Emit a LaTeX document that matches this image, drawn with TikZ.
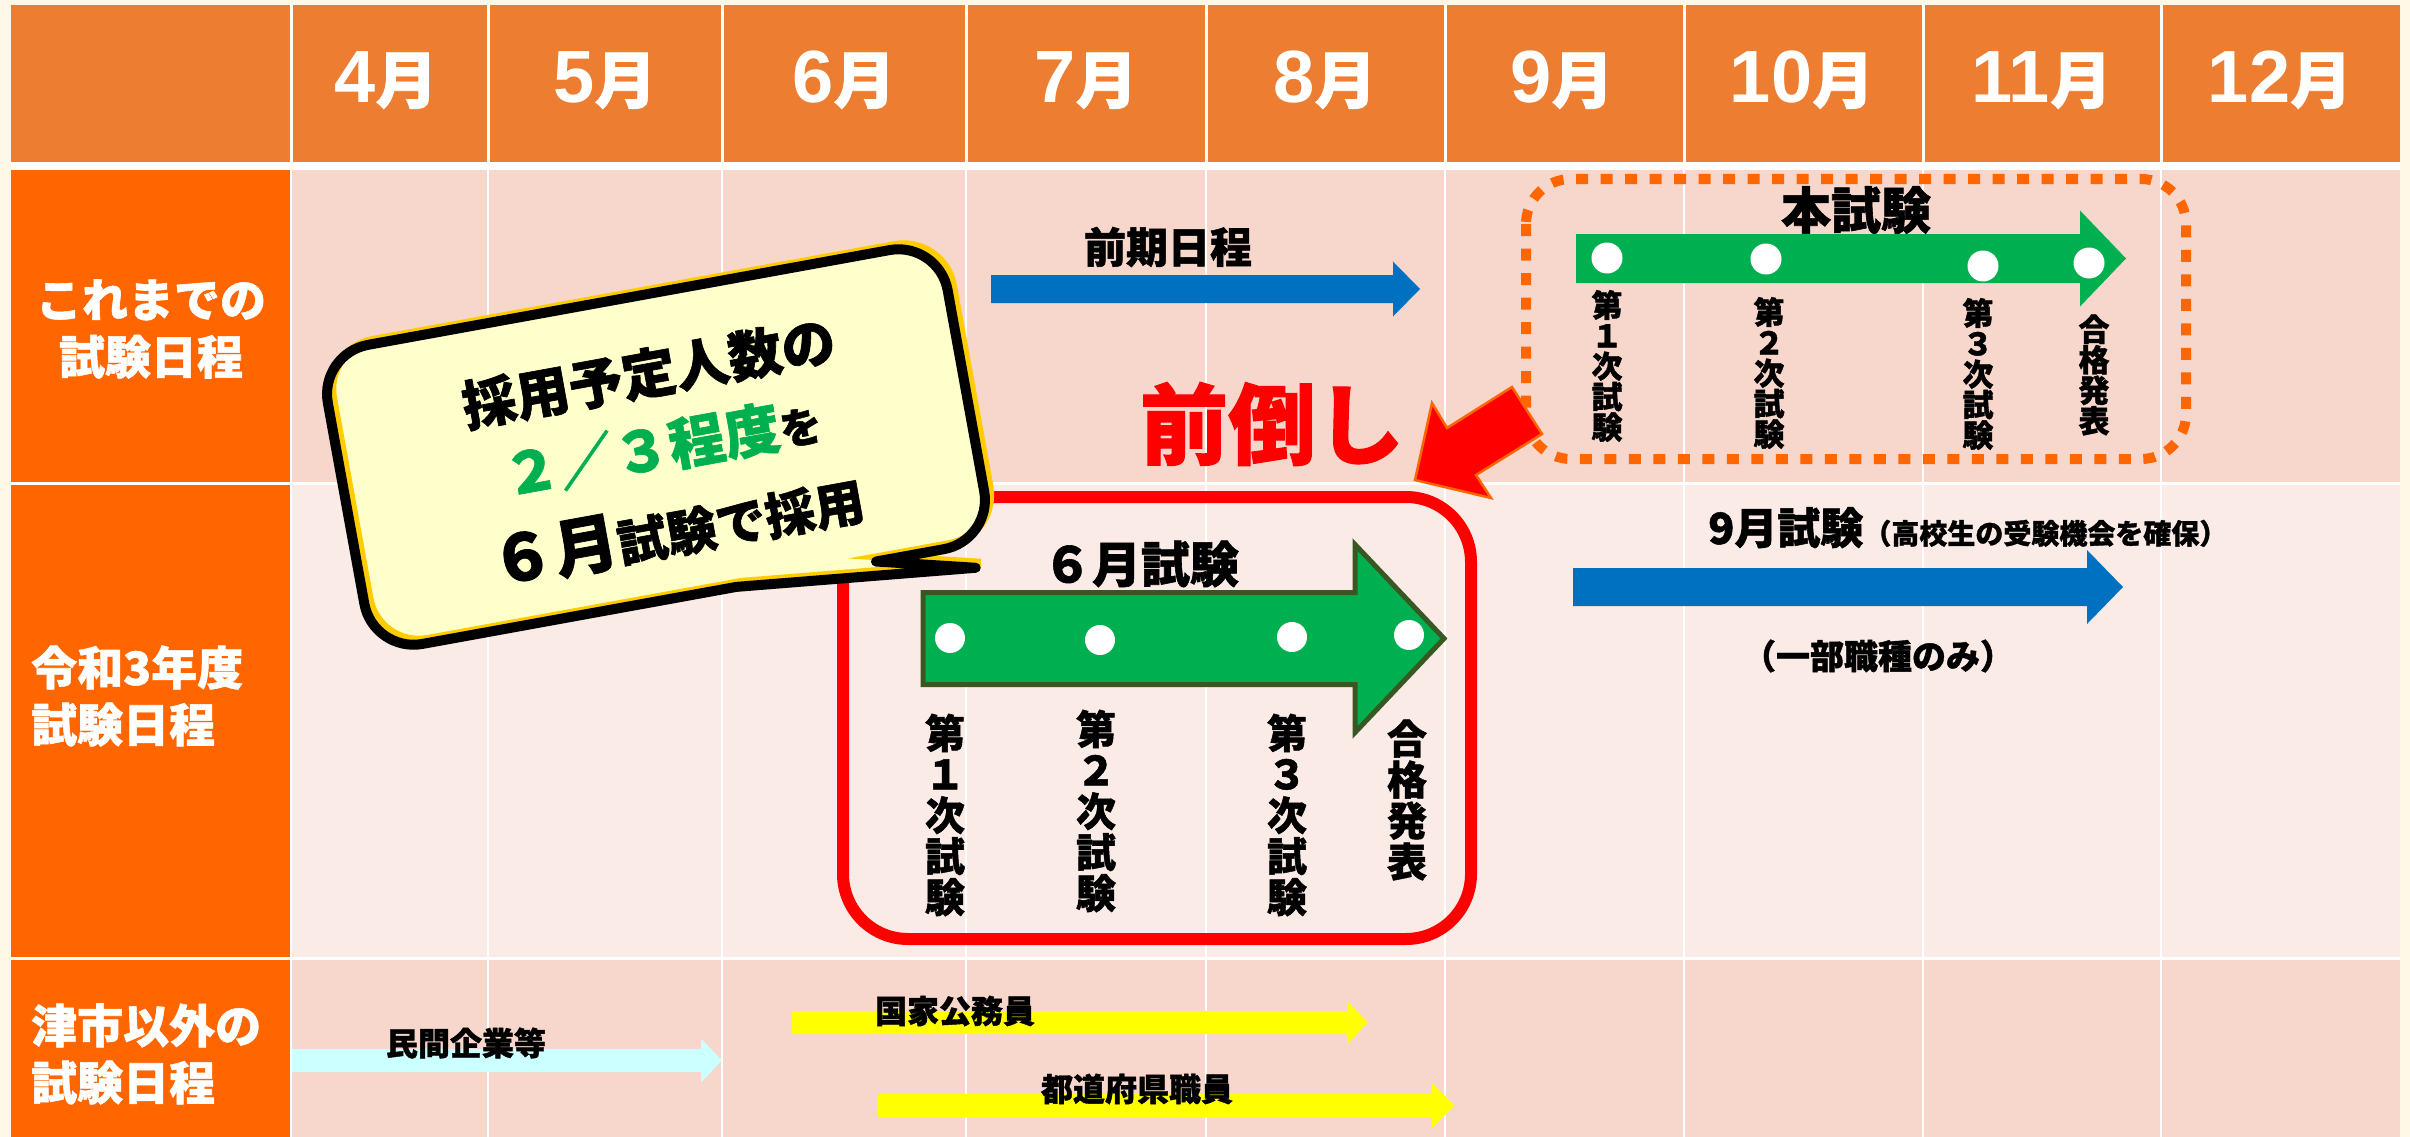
\documentclass[tikz,border=0pt]{standalone}
\usepackage{fontspec}
\newfontfamily\jp{Noto Sans CJK JP}[BoldFeatures={FakeBold=1.2}]
\newfontfamily\hdrdigits{Liberation Sans}
\definecolor{cream}{HTML}{FFF8E6}
\definecolor{hdr}{HTML}{ED7D31}
\definecolor{lab}{HTML}{FF6600}
\definecolor{rowa}{HTML}{F7D6CB}
\definecolor{rowb}{HTML}{FAEBE6}
\definecolor{grn}{HTML}{00B050}
\definecolor{grnline}{HTML}{385723}
\definecolor{blu}{HTML}{0070C0}
\definecolor{cyanl}{HTML}{CCFFFF}
\definecolor{yel}{HTML}{FFFF00}
\definecolor{bubfill}{HTML}{FFFFCC}
\definecolor{bubshadow}{HTML}{FFCC00}
\definecolor{dotor}{HTML}{FF6600}
\definecolor{redarr}{HTML}{FF0000}
\newcommand{\jfs}[2]{\fontsize{#1}{#2}\selectfont}
\newcommand{\mon}[1]{{\hdrdigits\bfseries\jfs{74}{74}#1}{\jp\bfseries\jfs{62}{62}月}}
% block arrow: style, x0, x1 (head base), x2 (tip), yc, body half height, head half height
\newcommand{\blockarrow}[7]{%
  \path[#1] (#2,#5-#6) -- (#3,#5-#6) -- (#3,#5-#7) -- (#4,#5) -- (#3,#5+#7) -- (#3,#5+#6) -- (#2,#5+#6) -- cycle;}
\begin{document}
\begin{tikzpicture}[x=1pt,y=-1pt,
  txt/.style={inner sep=0pt, font=\jp\bfseries},
  hdrtxt/.style={inner sep=0pt, text=white},
  labtxt/.style={inner sep=0pt, text=white, font=\jp\bfseries\jfs{46}{57}},
  vts/.style={inner sep=0pt, align=center, font=\jp\bfseries\jfs{31}{30.5}},
  vtl/.style={inner sep=0pt, align=center, font=\jp\bfseries\jfs{40}{41}},
  smalllab/.style={inner sep=0pt, font=\jp\bfseries\jfs{32}{32}}]
\useasboundingbox (0,0) rectangle (2410,1137);
% background and grid
\fill[cream] (0,0) rectangle (2410,1137);
\fill[white] (11,5) rectangle (2400,1137);
\fill[hdr] (11,5) rectangle (2400,162);
\fill[lab] (11,170) rectangle (291,482);
\fill[rowa] (291,170) rectangle (2400,482);
\fill[lab] (11,485) rectangle (291,957);
\fill[rowb] (291,485) rectangle (2400,957);
\fill[lab] (11,960) rectangle (291,1137);
\fill[rowa] (291,960) rectangle (2400,1137);
\foreach \x in {291,488,722,966,1206,1445,1684,1923,2161} {
  \draw[white, line width=3pt] (\x,5) -- (\x,162);
  \draw[white, line width=2.5pt] (\x,170) -- (\x,1137);
}
% header months
\foreach \m/\x/\n in {4/386/h4, 5/605/h5, 6/844/h6, 7/1086/h7, 8/1325/h8, 9/1562/h9, 10/1802/h10, 11/2042/h11, 12/2280/h12}
  \node[hdrtxt, anchor=base] (\n) at (\x,103) {\mon{\m}};
% row labels
\node[labtxt, align=center] (r1) at (151,329) {これまでの\\試験日程};
\node[labtxt, align=left, anchor=west] (r2) at (31,696) {令和3年度\\試験日程};
\node[labtxt, align=left, anchor=west] (r3) at (31,1054) {津市以外の\\試験日程};

% row 1: previous schedule
\blockarrow{fill=blu}{991}{1393}{1420}{289}{14}{27.5}
\node[txt, font=\jp\bfseries\jfs{42}{42}] (zenki) at (1168,247) {前期日程};
\draw[dotor, line width=10pt, rounded corners=45pt, dash pattern=on 12pt off 12.5pt] (1526,179) rectangle (2186,459);
\blockarrow{fill=grn}{1576}{2080}{2126}{258.5}{24.5}{48}
\node[txt, font=\jp\bfseries\jfs{50}{50}] (honshiken) at (1856,210) {本試験};
\foreach \x/\y in {1607/258, 1766/259, 1983/266, 2089/263} \fill[white] (\x,\y) circle[radius=15.5];
\node[vts] (a1) at (1607,366) {第\\１\\次\\試\\験};
\node[vts] (a2) at (1769,373) {第\\２\\次\\試\\験};
\node[vts] (a3) at (1978,374) {第\\３\\次\\試\\験};
\node[vts] (a4) at (2094,375) {合\\格\\発\\表};
\node[txt, text=redarr, font=\jp\bfseries\jfs{88}{88}] (maedaoshi) at (1272,424) {前倒し};
\path[fill=redarr, draw=dotor, line width=2.5pt, line join=miter] (1415,480) -- (1432,403) -- (1447,428) -- (1512,387) -- (1542,434) -- (1476,475) -- (1491,498) -- cycle;

% row 2: this year
\draw[red, line width=12pt, rounded corners=65pt] (843,497) rectangle (1471,939);
\blockarrow{fill=grn, draw=grnline, line width=5pt, line join=miter}{923}{1355}{1444}{638.5}{46}{94}
\node[txt, font=\jp\bfseries\jfs{49}{49}] (june) at (1141,564) {６月試験};
\foreach \x/\y in {950/638, 1100/640, 1292/637, 1409/635} \fill[white] (\x,\y) circle[radius=15];
\node[vtl] (b1) at (945,815) {第\\１\\次\\試\\験};
\node[vtl] (b2) at (1096,811) {第\\２\\次\\試\\験};
\node[vtl] (b3) at (1287,815) {第\\３\\次\\試\\験};
\node[vtl] (b4) at (1407,800) {合\\格\\発\\表};
\blockarrow{fill=blu}{1573}{2087}{2123}{587}{19}{37}
\node[txt, anchor=base west] (sept) at (1708,544) {{\jfs{43}{43}9月試験}{\jfs{28}{28}（高校生の受験機会を確保）}};
\node[txt, font=\jp\bfseries\jfs{34}{34}] (ichibu) at (1878,656) {（一部職種のみ）};

% row 3: others
\blockarrow{fill=cyanl}{292}{701}{722}{1060.5}{11.5}{22}
\blockarrow{fill=yel}{792}{1347}{1368}{1022.5}{11.5}{21.5}
\blockarrow{fill=yel}{878}{1432}{1455}{1105.5}{11.5}{22}
\node[smalllab] (minkan) at (466,1043) {民間企業等};
\node[smalllab] (kokka) at (955,1011) {国家公務員};
\node[smalllab] (todo) at (1137,1089) {都道府県職員};

% speech bubble
\begin{scope}[shift={(656,447)}, rotate=10.3]
\def\bub{(-315,-102) arc[start angle=180,end angle=270,radius=50] -- (265,-152) arc[start angle=270,end angle=360,radius=50] -- (315,102) arc[start angle=0,end angle=90,radius=50] -- (196,152) -- (293,176) -- (54,152) -- (-265,152) arc[start angle=90,end angle=180,radius=50] -- cycle}
\fill[bubfill] \bub;
\draw[bubshadow, line width=8pt, shift={(6,-4)}] \bub;
\draw[black, line width=10pt, line join=round] \bub;
\node[txt, transform shape, font=\jp\bfseries\jfs{54}{54}] (bl1) at (6,-74) {採用予定人数の};
\node[txt, transform shape] (bl2) at (6,1) {{\color{grn}\jfs{56}{56}２／３程度}{\jfs{42}{42}を}};
\node[txt, transform shape] (bl3) at (6,85) {{\jfs{64}{64}６月}{\jfs{50}{50}試験で採用}};
\end{scope}
\end{tikzpicture}
\end{document}
